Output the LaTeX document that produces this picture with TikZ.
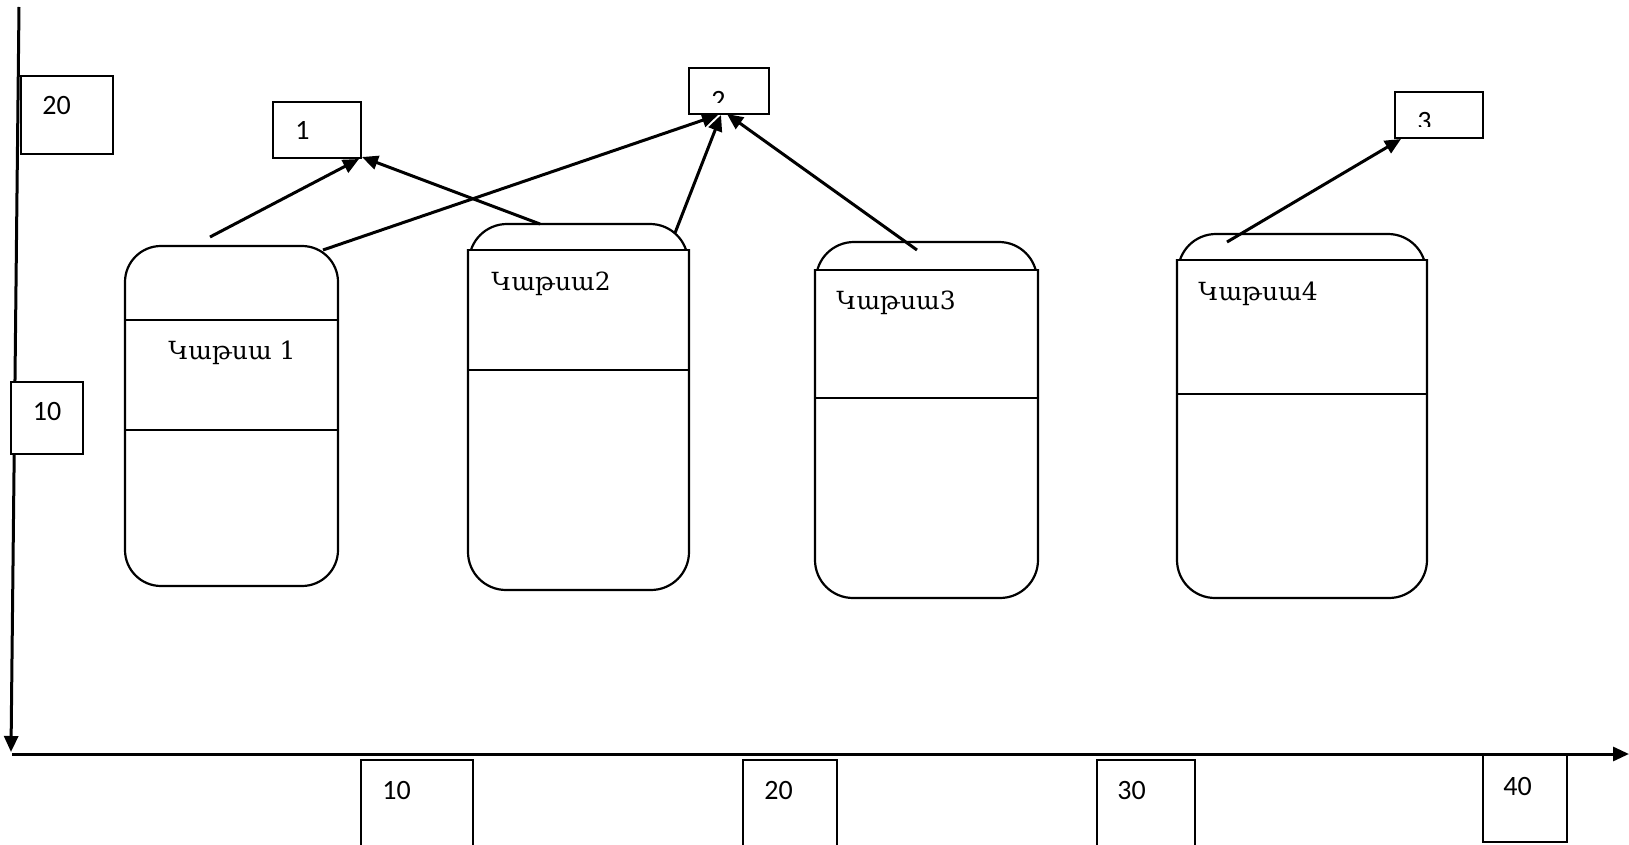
\documentclass[tikz,border=0pt]{standalone}
\usepackage{fontspec}
\setmainfont{Carlito}
\newfontfamily\armfont{DejaVu Serif}
\usetikzlibrary{arrows.meta}
\begin{document}
\begin{tikzpicture}[x=0.5pt,y=-0.5pt,
  potline/.style={line width=1.1pt},
  boxst/.style={draw,line width=1pt,inner sep=0pt},
  axisline/.style={line width=1.5pt},
  arr/.style={line width=1.5pt,-{Triangle[length=8pt,width=7pt]}},
  num/.style={anchor=base west,inner sep=0pt,font=\fontsize{14}{16}\selectfont},
  pott/.style={anchor=base west,inner sep=0pt,font=\armfont\fontsize{12.5}{15}\selectfont}]
\useasboundingbox (0,0) rectangle (1629,845);

% axes
\coordinate (ytop) at (19,7);
\coordinate (ybot) at (11,752);
\coordinate (xl) at (12,754);
\coordinate (xr) at (1629,754);
\draw[axisline,-{Triangle[length=8pt,width=7pt]}] (ytop) -- (ybot);
\draw[axisline,-{Triangle[length=8pt,width=7pt]}] (xl) -- (xr);

% scale boxes
\node[boxst,minimum width=46pt,minimum height=39pt] (s20) at (67,115) {};
\node[num] at (42,115) {20};
\node[boxst,fill=white,minimum width=36pt,minimum height=36pt] (s10) at (47,418) {};
\node[num,anchor=base] at (47,421) {10};
\node[boxst,minimum width=56pt,minimum height=50pt] (t10) at (417,810) {};
\node[num] at (382,799) {10};
\node[boxst,minimum width=47pt,minimum height=50pt] (t20) at (790,810) {};
\node[num] at (764,799) {20};
\node[boxst,minimum width=49pt,minimum height=50pt] (t30) at (1146,810) {};
\node[num] at (1117,799) {30};
\node[boxst,minimum width=42pt,minimum height=43.5pt] (t40) at (1525,798.5) {};
\node[num] at (1503,795) {40};

% target boxes
\node[boxst,minimum width=44pt,minimum height=28pt] (b1) at (317,130) {};
\node[num] at (295,140) {1};
\node[boxst,minimum width=40pt,minimum height=23pt] (b2) at (729,91) {};
\begin{scope}
\clip (695,70) rectangle (765,103);
\node[num] at (711,110) {2};
\end{scope}
\node[boxst,minimum width=44pt,minimum height=23pt] (b3) at (1439,115) {};
\begin{scope}
\clip (1400,94) rectangle (1480,127);
\node[num] at (1417,131) {3};
\end{scope}

% pot 1
\draw[potline,rounded corners=18pt] (125,246) rectangle (338,586);
\draw[potline] (125,320) -- (338,320);
\draw[potline] (125,430) -- (338,430);
\node[pott,anchor=base] at (232,360) {Կաթսա 1};

% pots 2-4
\foreach \xa/\xb/\yt/\yl/\ym/\yb in {468/689/224/250/370/590, 815/1038/242/270/398/598, 1177/1427/234/260/394/598}{
  \begin{scope}
    \clip (\xa-5,\yt-5) rectangle (\xb+5,\yl);
    \draw[potline,rounded corners=19pt] (\xa+1,\yt) rectangle (\xb-1,\yb);
  \end{scope}
  \begin{scope}
    \clip (\xa-5,\yl) rectangle (\xb+5,\yb+5);
    \draw[potline,rounded corners=19pt] (\xa,\yl-80) rectangle (\xb,\yb);
  \end{scope}
  \draw[potline] (\xa,\yl) -- (\xb,\yl);
  \draw[potline] (\xa,\ym) -- (\xb,\ym);
}
\node[pott] at (491,291) {Կաթսա2};
\node[pott] at (836,310) {Կաթսա3};
\node[pott] at (1198,301) {Կաթսա4};

% connectors
\coordinate (p1a) at (210,237);
\coordinate (p2a) at (540,224);
\coordinate (p1b) at (323,250);
\coordinate (p2b) at (675,233);
\coordinate (p3a) at (917,250);
\coordinate (p4a) at (1227,242);
\coordinate (b1l) at (359,159);
\coordinate (b1r) at (362,157);
\coordinate (b2l) at (718,115);
\coordinate (b2m) at (721,115);
\coordinate (b2r) at (727,114);
\coordinate (b3l) at (1401,139);
\draw[arr] (p1a) -- (b1l);
\draw[arr] (p2a) -- (b1r);
\draw[arr] (p1b) -- (b2l);
\draw[arr] (p2b) -- (b2m);
\draw[arr] (p3a) -- (b2r);
\draw[arr] (p4a) -- (b3l);
\end{tikzpicture}
\end{document}
